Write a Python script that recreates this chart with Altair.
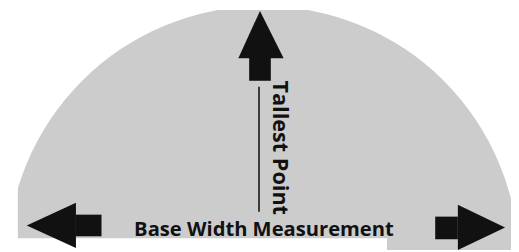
import altair as alt
import pandas as pd

# ---- geometry (pixel coordinates in the 519x252 image) ----
dome_cx = [267]
dome_cy = [264]
dome_r = [260]

# arrow shafts: up, left, right
shaft_x1 = [253, 77, 442]
shaft_x2 = [275, 103, 465]
shaft_y1 = [56, 216, 218]
shaft_y2 = [80, 238, 241]

# up arrow head (vertical area)
up_head_x = [242, 264, 288]
up_head_top = [57, 9, 57]
up_head_base = [57, 57, 57]

# left arrow head (horizontal area)
left_head_y = [204, 227, 250]
left_head_x = [77, 27, 77]
left_head_base = [77, 77, 77]

# right arrow head (horizontal area)
right_head_y = [206, 229, 252]
right_head_x = [465, 513, 465]
right_head_base = [465, 465, 465]

# measuring line
line_x = [263]
line_y1 = [86]
line_y2 = [213]

# white paper outside the cropped photo
mask_x1 = [8, 8]
mask_x2 = [18, 393]
mask_y1 = [8, 240]
mask_y2 = [252, 252]

labels = ["Tallest Point", "Base Width Measurement"]
label_x = [284, 268]
label_y = [148, 238]

GRAY = "#cccccc"
INK = "#111111"

xs = alt.Scale(domain=[8, 519], nice=False, zero=False)
ys = alt.Scale(domain=[8, 252], nice=False, zero=False, reverse=True)

dome = alt.Chart(pd.DataFrame({"x": dome_cx, "y": dome_cy, "r": dome_r})).mark_arc(
    fill=GRAY, theta=0, theta2=6.2832, clip=True
).encode(
    x=alt.X("x:Q", scale=xs, axis=None),
    y=alt.Y("y:Q", scale=ys, axis=None),
    radius=alt.Radius("r:Q", scale=None),
)

masks = alt.Chart(pd.DataFrame({"x1": mask_x1, "x2": mask_x2, "y1": mask_y1, "y2": mask_y2})).mark_rect(
    fill="white"
).encode(
    x=alt.X("x1:Q", scale=xs, axis=None), x2="x2:Q",
    y=alt.Y("y1:Q", scale=ys, axis=None), y2="y2:Q",
)

shafts = alt.Chart(pd.DataFrame({"x1": shaft_x1, "x2": shaft_x2, "y1": shaft_y1, "y2": shaft_y2})).mark_rect(
    fill=INK
).encode(
    x=alt.X("x1:Q", scale=xs, axis=None), x2="x2:Q",
    y=alt.Y("y1:Q", scale=ys, axis=None), y2="y2:Q",
)

up_head = alt.Chart(pd.DataFrame({"x": up_head_x, "t": up_head_top, "b": up_head_base})).mark_area(
    fill=INK, orient="vertical"
).encode(
    x=alt.X("x:Q", scale=xs, axis=None),
    y=alt.Y("t:Q", scale=ys, axis=None), y2="b:Q",
)

left_head = alt.Chart(pd.DataFrame({"y": left_head_y, "x": left_head_x, "b": left_head_base})).mark_area(
    fill=INK, orient="horizontal"
).encode(
    y=alt.Y("y:Q", scale=ys, axis=None),
    x=alt.X("x:Q", scale=xs, axis=None), x2="b:Q",
)

right_head = alt.Chart(pd.DataFrame({"y": right_head_y, "x": right_head_x, "b": right_head_base})).mark_area(
    fill=INK, orient="horizontal"
).encode(
    y=alt.Y("y:Q", scale=ys, axis=None),
    x=alt.X("x:Q", scale=xs, axis=None), x2="b:Q",
)

rule = alt.Chart(pd.DataFrame({"x": line_x, "y1": line_y1, "y2": line_y2})).mark_rule(
    color="#3a3a3a", strokeWidth=2
).encode(
    x=alt.X("x:Q", scale=xs, axis=None),
    y=alt.Y("y1:Q", scale=ys, axis=None), y2="y2:Q",
)

df_lab = pd.DataFrame({"t": labels, "x": label_x, "y": label_y})
vert_text = alt.Chart(df_lab.iloc[[0]]).mark_text(
    angle=90, align="center", baseline="middle", font="Open Sans",
    fontWeight="bold", fontSize=22, color=INK
).encode(
    x=alt.X("x:Q", scale=xs, axis=None),
    y=alt.Y("y:Q", scale=ys, axis=None),
    text="t:N",
)
base_text = alt.Chart(df_lab.iloc[[1]]).mark_text(
    align="center", baseline="alphabetic", font="Open Sans",
    fontWeight="bold", fontSize=20.5, color=INK
).encode(
    x=alt.X("x:Q", scale=xs, axis=None),
    y=alt.Y("y:Q", scale=ys, axis=None),
    text="t:N",
)

chart = alt.layer(
    dome, masks, shafts, up_head, left_head, right_head, rule, vert_text, base_text
).properties(
    width=511, height=244, padding=0, autosize=alt.AutoSizeParams(type="none")
).configure_view(stroke=None)

chart.save("out.html", embed_options={"renderer": "svg", "actions": False})
